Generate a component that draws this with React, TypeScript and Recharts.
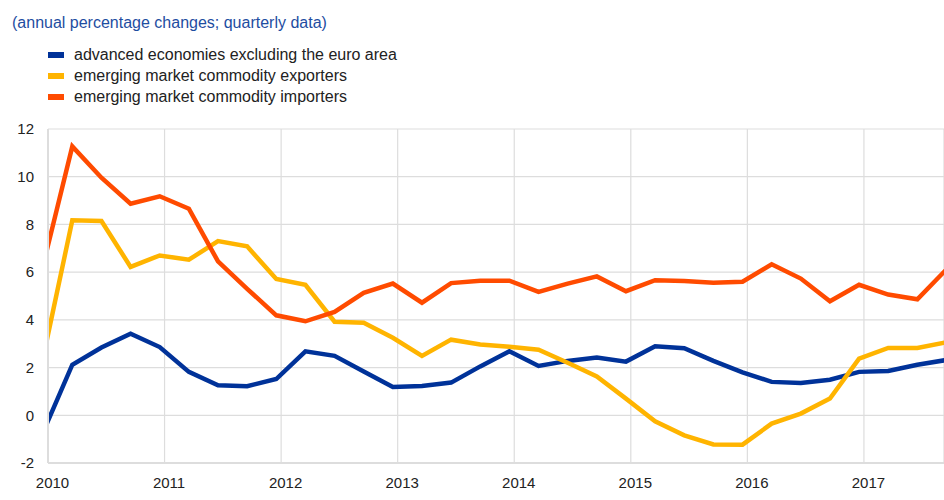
import { LineChart, Line, XAxis, YAxis, CartesianGrid } from 'recharts';

// quarters shown in the chart (first and last ones are partly clipped by the plot edges)
const quarters = [
  '2009Q4', '2010Q1', '2010Q2', '2010Q3', '2010Q4', '2011Q1', '2011Q2', '2011Q3',
  '2011Q4', '2012Q1', '2012Q2', '2012Q3', '2012Q4', '2013Q1', '2013Q2', '2013Q3',
  '2013Q4', '2014Q1', '2014Q2', '2014Q3', '2014Q4', '2015Q1', '2015Q2', '2015Q3',
  '2015Q4', '2016Q1', '2016Q2', '2016Q3', '2016Q4', '2017Q1', '2017Q2', '2017Q3',
];

const advanced = [
  -0.7, 2.12, 2.84, 3.42, 2.86, 1.82, 1.26, 1.22, 1.52, 2.68, 2.49, 1.84, 1.19, 1.23, 1.37, 2.05,
  2.68, 2.07, 2.28, 2.42, 2.25, 2.89, 2.81, 2.28, 1.8, 1.4, 1.35, 1.49, 1.82, 1.86, 2.12, 2.32,
];
const exporters = [
  2.43, 8.17, 8.14, 6.22, 6.7, 6.52, 7.3, 7.08, 5.71, 5.47, 3.92, 3.88, 3.25, 2.49, 3.17, 2.97,
  2.87, 2.75, 2.2, 1.63, 0.7, -0.25, -0.84, -1.22, -1.23, -0.35, 0.07, 0.7, 2.37, 2.82, 2.82, 3.06,
];
const importers = [
  6.3, 11.27, 9.96, 8.87, 9.18, 8.66, 6.45, 5.3, 4.19, 3.94, 4.33, 5.13, 5.52, 4.72, 5.54, 5.64,
  5.64, 5.17, 5.52, 5.82, 5.2, 5.66, 5.63, 5.56, 5.6, 6.33, 5.73, 4.78, 5.47, 5.06, 4.86, 6.12,
];

const yearTicks = [2010, 2011, 2012, 2013, 2014, 2015, 2016, 2017];
const yTicks = [-2, 0, 2, 4, 6, 8, 10, 12];

const series = [
  { key: 'advanced', name: 'advanced economies excluding the euro area', color: '#003299' },
  { key: 'exporters', name: 'emerging market commodity exporters', color: '#FFB400' },
  { key: 'importers', name: 'emerging market commodity importers', color: '#FF4B00' },
];

// where a quarter's point sits inside its quarter on the time axis
const QUARTER_OFFSET = 0.2085;

const data = quarters.map((q, i) => {
  const year = Number(q.slice(0, 4));
  const qn = Number(q.slice(5));
  return {
    t: year + (qn - 1) * 0.25 + QUARTER_OFFSET,
    advanced: advanced[i],
    exporters: exporters[i],
    importers: importers[i],
  };
});

const FONT = '"Liberation Sans", Arial, sans-serif';

export default function App() {
  return (
    <div style={{ position: 'absolute', left: 0, top: 0, width: 944, height: 500, background: '#fff', fontFamily: FONT }}>
      <div style={{ position: 'absolute', left: 12, top: 13, height: 20, lineHeight: '20px', fontSize: 16, color: '#1E4DA1', whiteSpace: 'nowrap' }}>
        (annual percentage changes; quarterly data)
      </div>
      {series.map((s, i) => (
        <div
          key={s.key}
          style={{ position: 'absolute', left: 48, top: 45 + i * 21.2, height: 20, display: 'flex', alignItems: 'center', fontSize: 16, color: '#222', whiteSpace: 'nowrap' }}
        >
          <span style={{ display: 'inline-block', width: 16, height: 6, background: s.color, marginRight: 10 }} />
          {s.name}
        </div>
      ))}
      <LineChart width={944} height={500} data={data} margin={{ top: 129, right: 0, bottom: 7, left: 0 }}>
        <CartesianGrid stroke="#dddddd" strokeWidth={1.2} />
        <XAxis
          type="number"
          dataKey="t"
          domain={[2010, 2017.687]}
          ticks={yearTicks}
          allowDataOverflow
          height={30}
          axisLine={{ stroke: '#dddddd', strokeWidth: 2 }}
          tickLine={false}
          tickMargin={8}
          tick={{ fill: '#222', fontSize: 15, fontFamily: FONT, dx: 4.5 }}
        />
        <YAxis
          type="number"
          domain={[-2, 12]}
          ticks={yTicks}
          width={48}
          axisLine={{ stroke: '#dddddd', strokeWidth: 2 }}
          tickLine={false}
          tickMargin={8}
          tick={{ fill: '#222', fontSize: 15, fontFamily: FONT }}
        />
        {series.map((s) => (
          <Line
            key={s.key}
            type="linear"
            dataKey={s.key}
            name={s.name}
            stroke={s.color}
            strokeWidth={4.5}
            dot={false}
            activeDot={false}
            isAnimationActive={false}
          />
        ))}
      </LineChart>
    </div>
  );
}
